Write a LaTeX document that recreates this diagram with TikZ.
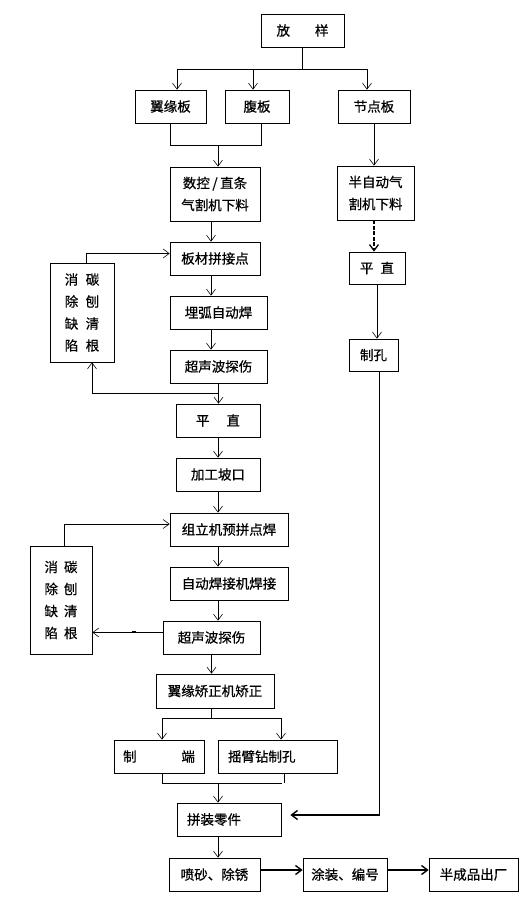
\documentclass[tikz,border=0pt]{standalone}
\usepackage{fontspec}
\newfontfamily\cjk[FakeBold=0.6]{Noto Sans CJK SC}
\usetikzlibrary{arrows.meta}
\tikzset{
  box/.style={draw, line width=0.7pt, inner sep=0pt, align=center,
    minimum height=33pt, font=\cjk\fontsize{13.5}{22}\selectfont},
  lbox/.style={box, align=left, inner xsep=10pt},
  arr/.style={line width=0.6pt, -{Straight Barb[length=6pt,width=9pt]}},
  bold arr/.style={line width=1.4pt, -{Straight Barb[length=6pt,width=9pt]}},
  dash arr/.style={line width=1.3pt, dash pattern=on 4pt off 1.5pt, -{Straight Barb[length=6pt,width=9pt,line width=1.3pt]}}
}
\newcommand{\fixtext}[1]{消\hspace{#1}碳\\除\hspace{#1}刨\\缺\hspace{#1}清\\陷\hspace{#1}根}

\begin{document}
\begin{tikzpicture}[x=1pt, y=-1pt]
\useasboundingbox (0,0) rectangle (531,899);
\fill[white] (0,0) rectangle (531,899);

% boxes
\node[box, minimum width=83pt] (fang) at (302.5,30.5) {放\hspace{25pt}样};
\node[box, minimum width=71pt] (yy) at (170.5,106.5) {翼缘板};
\node[box, minimum width=64pt] (fb) at (257,106.5) {腹板};
\node[box, minimum width=72pt] (jd) at (374,106.5) {节点板};

\node[box, minimum width=90pt, minimum height=54pt] (sk) at (215,194) {数控\hspace{2.5pt}/\hspace{2.5pt}直条\\气割机下料};
\node[box, minimum width=90pt] (bc) at (215,258.5) {板材拼接点};
\node[box, minimum width=97pt] (mh) at (218.5,312.5) {埋弧自动焊};
\node[box, minimum width=97pt] (cs1) at (218.5,366.5) {超声波探伤};
\node[box, minimum width=64pt, minimum height=99pt] (qx1) at (82,312.5) {\fixtext{7.5pt}};
\node[box, minimum width=84pt] (pz1) at (218,420.5) {平\hspace{17pt}直};
\node[box, minimum width=84pt] (jg) at (218,474.5) {加工坡口};
\node[box, minimum width=118pt] (zl) at (229,529.5) {组立机预拼点焊};
\node[box, minimum width=118pt] (zh) at (229,583.5) {自动焊接机焊接};
\node[box, minimum width=97pt] (cs2) at (211.5,637.5) {超声波探伤};
\node[box, minimum width=62pt, minimum height=108pt] (qx2) at (61,600) {\fixtext{6pt}};
\node[box, minimum width=118pt, minimum height=34pt] (yj) at (215,691) {翼缘矫正机矫正};
\node[box, minimum width=90pt] (zd) at (159,756.5) {制\hspace{44.8pt}端};
\node[lbox, text width=99pt] (yb) at (277.5,756.5) {摇臂钻制孔};
\node[lbox, text width=84pt] (pj) at (229,819.5) {拼装零件};
\node[box, minimum width=91pt] (ps) at (214.5,874.5) {喷砂、除锈};
\node[box, minimum width=84pt] (tz) at (345,874.5) {涂装、编号};
\node[box, minimum width=89pt] (cp) at (473.5,874.5) {半成品出厂};

\node[box, minimum width=77pt, minimum height=54pt] (bz) at (375.5,193) {半自动气\\割机下料};
\node[box, minimum width=56pt, minimum height=32pt] (pz2) at (377,268) {平\hspace{7pt}直};
\node[box, minimum width=49pt, minimum height=32pt] (zk) at (373.5,355) {制孔};

% split under fang
\coordinate (br1) at (177,69);
\coordinate (br2) at (253,69);
\coordinate (br3) at (367,69);
\draw[line width=0.6pt] (fang.south) -- (fang.south |- br1);
\draw[line width=0.6pt] (br1) -- (br3);
\draw[arr] (br1) -- (br1 |- yy.north);
\draw[arr] (br2) -- (br2 |- fb.north);
\draw[arr] (br3) -- (br3 |- jd.north);

% merge into sk
\coordinate (mg) at (218,145);
\coordinate (mg2) at (261,145);
\draw[line width=0.6pt] (yy.south) -- (yy.south |- mg) -- (mg2) -- (mg2 |- fb.south);
\draw[arr] (mg) -- (mg |- sk.north);

% left column
\draw[arr] ([xshift=-4pt]sk.south) -- ([xshift=-4pt]sk.south |- bc.north);
\draw[arr] ([xshift=-4pt]bc.south) -- ([xshift=-4pt]bc.south |- mh.north);
\draw[arr] ([xshift=-7.5pt]mh.south) -- ([xshift=-7.5pt]mh.south |- cs1.north);
\draw[arr] (cs1.south) -- (cs1.south |- pz1.north);
\coordinate (fb1) at (218,393);
\draw[arr] (fb1) -| ([xshift=10pt]qx1.south);
\draw[arr] ([xshift=4pt]qx1.north) |- ([yshift=5pt]bc.west);
\draw[arr] (pz1.south) -- (pz1.south |- jg.north);
\draw[arr] (jg.south) -- (jg.south |- zl.north);
\draw[arr] ([xshift=3pt]qx2.north) |- ([yshift=5.5pt]zl.west);
\draw[arr] (jg.south |- zl.south) -- (jg.south |- zh.north);
\draw[arr] (jg.south |- zh.south) -- (jg.south |- cs2.north);
\draw[arr] ([yshift=5pt]cs2.west) -- ([yshift=5pt]cs2.west -| qx2.east);
\draw[line width=1pt] (132,631) -- (136,631);
\draw[arr] (cs2.south) -- (cs2.south |- yj.north);

% split under yj
\coordinate (sp1) at (162,718);
\coordinate (sp2) at (281,718);
\draw[line width=0.6pt] (cs2.south |- yj.south) -- (cs2.south |- sp1);
\draw[line width=0.6pt] (sp1) -- (sp2);
\draw[arr] (sp1) -- (sp1 |- zd.north);
\draw[arr] (sp2) -- (sp2 |- yb.north);

% merge into pj
\coordinate (mj1) at (162,783);
\coordinate (mj2) at (282,783);
\coordinate (mj) at (218,783);
\draw[line width=0.6pt] (mj1 |- zd.south) -- (mj1) -- (mj2);
\draw[line width=0.6pt] ([xshift=7pt]yb.south) -- ++(0,10);
\draw[arr] (mj) -- (mj |- pj.north);
\draw[arr] (mj |- pj.south) -- (mj |- ps.north);

% bottom row
\draw[bold arr] ([yshift=4.5pt]ps.east) -- ([yshift=4.5pt]ps.east -| tz.west);
\draw[bold arr] ([yshift=4.5pt]tz.east) -- ([yshift=4.5pt]tz.east -| cp.west);

% right column
\draw[arr] (jd.south) -- (jd.south |- bz.north);
\draw[dash arr] (jd.south |- bz.south) -- (jd.south |- pz2.north);
\draw[arr] (pz2.south) -- (pz2.south |- zk.north);
\coordinate (zc) at (379.5,815);
\draw[line width=0.6pt] ([xshift=6pt]zk.south) -- (zc);
\draw[bold arr, shorten >=9pt] (zc) -- (zc -| pj.east);
\end{tikzpicture}
\end{document}
